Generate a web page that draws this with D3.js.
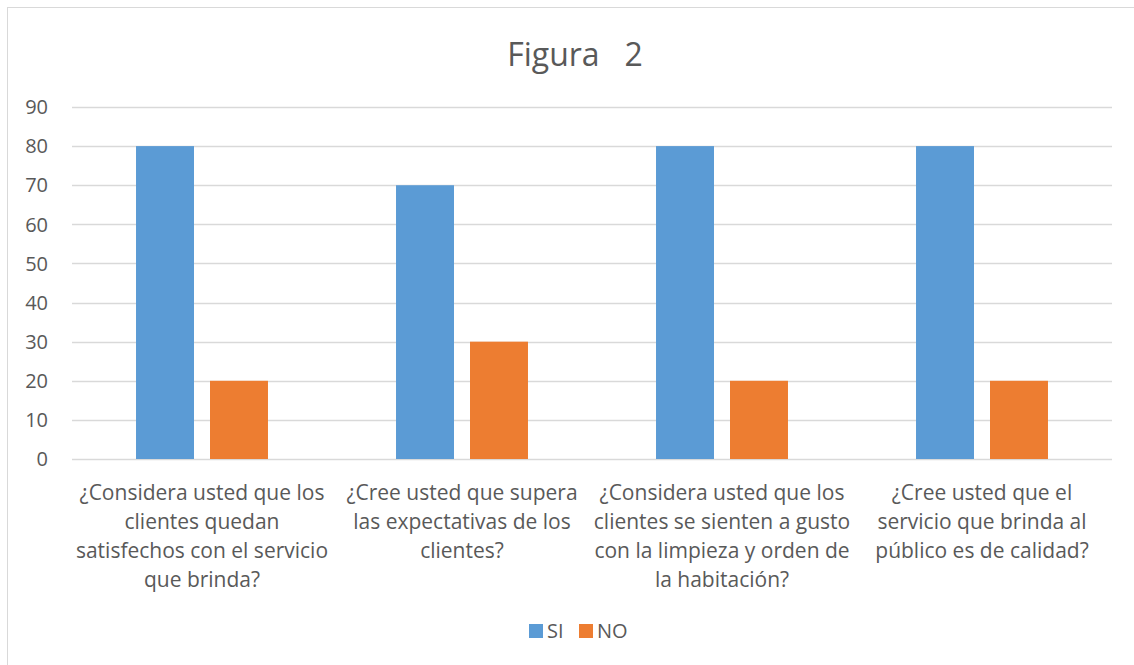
<!DOCTYPE html>
<html>
<head>
<meta charset="utf-8">
<script src="https://cdn.jsdelivr.net/npm/d3@7"></script>
<style>
  body { margin: 0; background: #fff; }
  text { font-family: "Open Sans", "Liberation Sans", sans-serif; fill: #595959; }
</style>
</head>
<body>
<svg id="chart" width="1134" height="665"></svg>
<script>
'use strict';

// categories (each label split into the lines shown under the axis)
var categories = [
  ['¿Considera usted que los', 'clientes quedan', 'satisfechos con el servicio', 'que brinda?'],
  ['¿Cree usted que supera', 'las expectativas de los', 'clientes?'],
  ['¿Considera usted que los', 'clientes se sienten a gusto', 'con la limpieza y orden de', 'la habitación?'],
  ['¿Cree usted que el', 'servicio que brinda al', 'público es de calidad?']
];
var seriesNames = ['SI', 'NO'];
var siValues = [80, 70, 80, 80];
var noValues = [20, 30, 20, 20];
var yTicks = [0, 10, 20, 30, 40, 50, 60, 70, 80, 90];
var colors = ['#5B9BD5', '#ED7D31'];

var svg = d3.select('#chart');

// chart frame
svg.append('rect')
  .attr('x', 7.5).attr('y', 7.5)
  .attr('width', 1140).attr('height', 680)
  .attr('fill', 'none').attr('stroke', '#D9D9D9');

var plotLeft = 72, plotRight = 1112, plotTop = 107, plotBottom = 459;

var x = d3.scaleBand().domain(d3.range(categories.length)).range([plotLeft, plotRight]);
var y = d3.scaleLinear().domain([0, 90]).range([plotBottom, plotTop]);

// gridlines
svg.selectAll('.grid').data(yTicks).enter().append('line')
  .attr('x1', plotLeft).attr('x2', plotRight)
  .attr('y1', function(d){ return Math.round(y(d)) + 0.5; })
  .attr('y2', function(d){ return Math.round(y(d)) + 0.5; })
  .attr('stroke', '#D9D9D9').attr('stroke-width', 1.3);

// y axis labels
svg.selectAll('.ylab').data(yTicks).enter().append('text')
  .attr('x', 48).attr('y', function(d){ return y(d); })
  .attr('dy', '0.36em')
  .attr('text-anchor', 'end')
  .style('font-size', '20px')
  .text(function(d){ return d; });

var barW = x.bandwidth() * 0.223;
var gap = 16;

var rows = categories.map(function(c, i){ return {i: i, si: siValues[i], no: noValues[i]}; });

svg.selectAll('.si').data(rows).enter().append('rect')
  .attr('x', function(d){ return x(d.i) + x.bandwidth() / 2 - gap / 2 - barW; })
  .attr('y', function(d){ return y(d.si); })
  .attr('width', barW)
  .attr('height', function(d){ return y(0) - y(d.si); })
  .attr('fill', colors[0]);

svg.selectAll('.no').data(rows).enter().append('rect')
  .attr('x', function(d){ return x(d.i) + x.bandwidth() / 2 + gap / 2; })
  .attr('y', function(d){ return y(d.no); })
  .attr('width', barW)
  .attr('height', function(d){ return y(0) - y(d.no); })
  .attr('fill', colors[1]);

// category labels
categories.forEach(function(lines, i){
  var t = svg.append('text')
    .attr('text-anchor', 'middle')
    .style('font-size', '21px');
  lines.forEach(function(line, k){
    t.append('tspan')
      .attr('x', x(i) + x.bandwidth() / 2)
      .attr('y', 499.5 + k * 29.3)
      .text(line);
  });
});

// title
svg.append('text')
  .attr('x', 575).attr('y', 66)
  .attr('text-anchor', 'middle')
  .style('font-size', '32px')
  .attr('xml:space', 'preserve')
  .text('Figura   2');

// legend
var legend = svg.selectAll('.leg').data(seriesNames).enter().append('g')
  .attr('transform', function(d, i){ return 'translate(' + (529 + i * 50) + ',624)'; });
legend.append('rect').attr('width', 14).attr('height', 14)
  .attr('fill', function(d, i){ return colors[i]; });
legend.append('text').attr('x', 18).attr('y', 14)
  .style('font-size', '20px')
  .text(function(d){ return d; });
</script>
</body>
</html>
